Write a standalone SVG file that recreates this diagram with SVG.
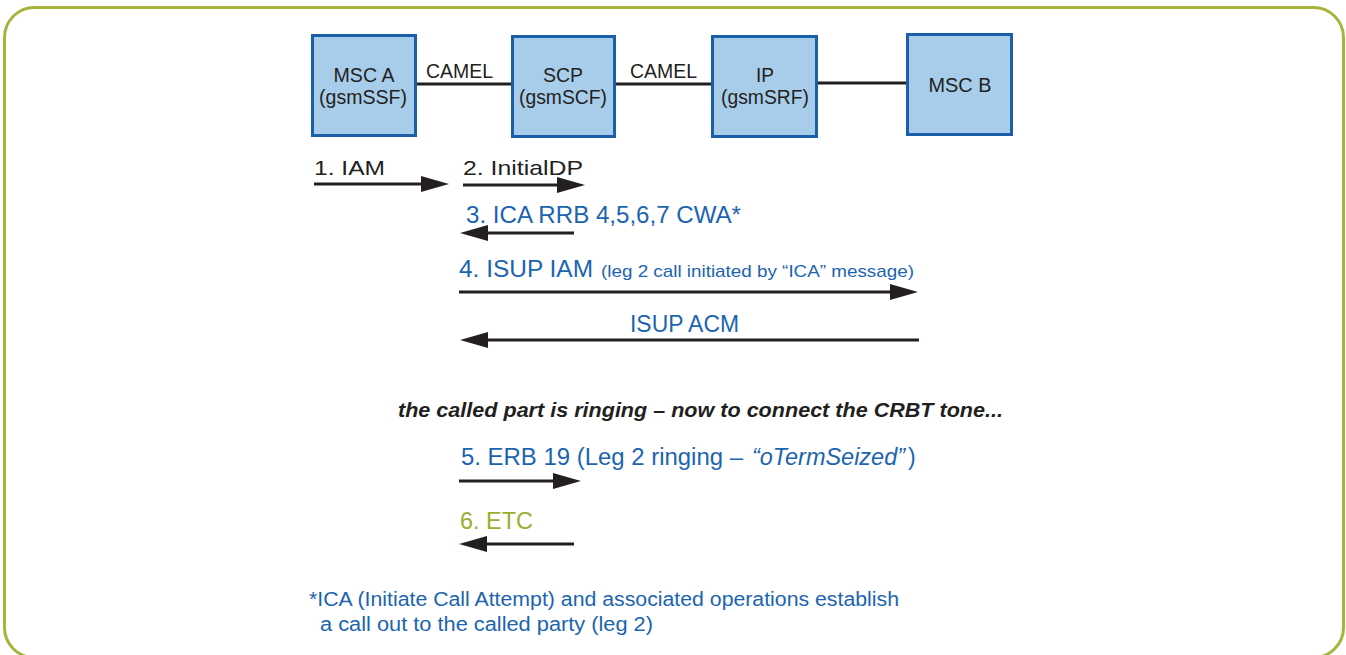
<svg xmlns="http://www.w3.org/2000/svg" width="1346" height="655" viewBox="0 0 1346 655">
  <style>
    text { font-family: "Liberation Sans", Arial, sans-serif; }
    .node rect { fill: #a7cdeb; stroke: #1b5fa9; stroke-width: 3; }
    .node text { fill: #231f20; font-size: 20px; text-anchor: middle; }
    .link { stroke: #231f20; stroke-width: 3; fill: none; }
    .msg { stroke: #231f20; stroke-width: 3; fill: none; marker-end: url(#head); }
    .lbl { fill: #231f20; font-size: 21px; }
    .blue { fill: #1b64b0; font-size: 23px; }
    .olive { fill: #9dad2f; font-size: 23px; }
    .note { fill: #231f20; font-size: 21px; font-weight: bold; font-style: italic; }
    .foot { fill: #1b64b0; font-size: 20px; }
  </style>
  <defs>
    <marker id="head" markerUnits="userSpaceOnUse" markerWidth="28" markerHeight="16" refX="0" refY="8" orient="auto" overflow="visible">
      <path d="M0,0 L28,8 L0,16 Z" fill="#231f20"/>
    </marker>
  </defs>

  <!-- outer frame -->
  <rect x="4.5" y="7.5" width="1339" height="650" rx="30" ry="30" fill="#ffffff" stroke="#a8b33a" stroke-width="3"/>

  <!-- network links -->
  <g id="links">
    <line class="link" x1="417" y1="84" x2="511" y2="84"/>
    <line class="link" x1="616" y1="84" x2="711" y2="84"/>
    <line class="link" x1="818" y1="83" x2="906" y2="83"/>
    <text class="lbl" x="426" y="78" textLength="67" lengthAdjust="spacingAndGlyphs">CAMEL</text>
    <text class="lbl" x="630" y="78" textLength="67" lengthAdjust="spacingAndGlyphs">CAMEL</text>
  </g>

  <g id="msc-a" class="node">
    <rect x="312.5" y="35.5" width="103" height="100"/>
    <text x="364" y="82" textLength="61" lengthAdjust="spacingAndGlyphs">MSC A</text>
    <text x="363" y="104" textLength="88" lengthAdjust="spacingAndGlyphs">(gsmSSF)</text>
  </g>
  <g id="scp" class="node">
    <rect x="512.5" y="36.5" width="102" height="100"/>
    <text x="563" y="82" textLength="40" lengthAdjust="spacingAndGlyphs">SCP</text>
    <text x="563" y="104" textLength="88" lengthAdjust="spacingAndGlyphs">(gsmSCF)</text>
  </g>
  <g id="ip" class="node">
    <rect x="712.5" y="36.5" width="104" height="100"/>
    <text x="765" y="82" textLength="18" lengthAdjust="spacingAndGlyphs">IP</text>
    <text x="765" y="104" textLength="88" lengthAdjust="spacingAndGlyphs">(gsmSRF)</text>
  </g>
  <g id="msc-b" class="node">
    <rect x="907.5" y="34.5" width="104" height="100"/>
    <text x="960" y="92" textLength="63" lengthAdjust="spacingAndGlyphs">MSC B</text>
  </g>

  <!-- message flow -->
  <g id="messages">
    <line class="msg" x1="314" y1="184" x2="421" y2="184"/>
    <line class="msg" x1="463" y1="185" x2="557" y2="185"/>
    <line class="msg" x1="574" y1="233" x2="488" y2="233"/>
    <line class="msg" x1="459" y1="292" x2="890" y2="292"/>
    <line class="msg" x1="919" y1="340" x2="488" y2="340"/>
    <line class="msg" x1="459" y1="481" x2="553" y2="481"/>
    <line class="msg" x1="574" y1="544" x2="487" y2="544"/>
  </g>

  <g id="labels">
    <text class="lbl" x="314" y="175" textLength="71" lengthAdjust="spacingAndGlyphs">1. IAM</text>
    <text class="lbl" x="463" y="175" textLength="120" lengthAdjust="spacingAndGlyphs">2. InitialDP</text>
    <text class="blue" x="466" y="223" textLength="275" lengthAdjust="spacingAndGlyphs">3. ICA RRB 4,5,6,7 CWA*</text>
    <text class="blue" x="459" y="277" textLength="134" lengthAdjust="spacingAndGlyphs">4. ISUP IAM</text>
    <text class="blue" x="601" y="277" style="font-size:17px" textLength="313" lengthAdjust="spacingAndGlyphs">(leg 2 call initiated by “ICA” message)</text>
    <text class="blue" x="630" y="332" textLength="109" lengthAdjust="spacingAndGlyphs">ISUP ACM</text>
    <text class="note" x="398" y="417" textLength="605" lengthAdjust="spacingAndGlyphs">the called part is ringing – now to connect the CRBT tone...</text>
    <text class="blue" x="461" y="465" textLength="282" lengthAdjust="spacingAndGlyphs">5. ERB 19 (Leg 2 ringing –</text>
    <text class="blue" x="752" y="465" font-style="italic" textLength="153" lengthAdjust="spacingAndGlyphs">“oTermSeized”</text>
    <text class="blue" x="908" y="465">)</text>
    <text class="olive" x="460" y="529" textLength="73" lengthAdjust="spacingAndGlyphs">6. ETC</text>
    <text class="foot" x="309" y="606" textLength="590" lengthAdjust="spacingAndGlyphs">*ICA (Initiate Call Attempt) and associated operations establish</text>
    <text class="foot" x="320" y="631" textLength="333" lengthAdjust="spacingAndGlyphs">a call out to the called party (leg 2)</text>
  </g>
</svg>
